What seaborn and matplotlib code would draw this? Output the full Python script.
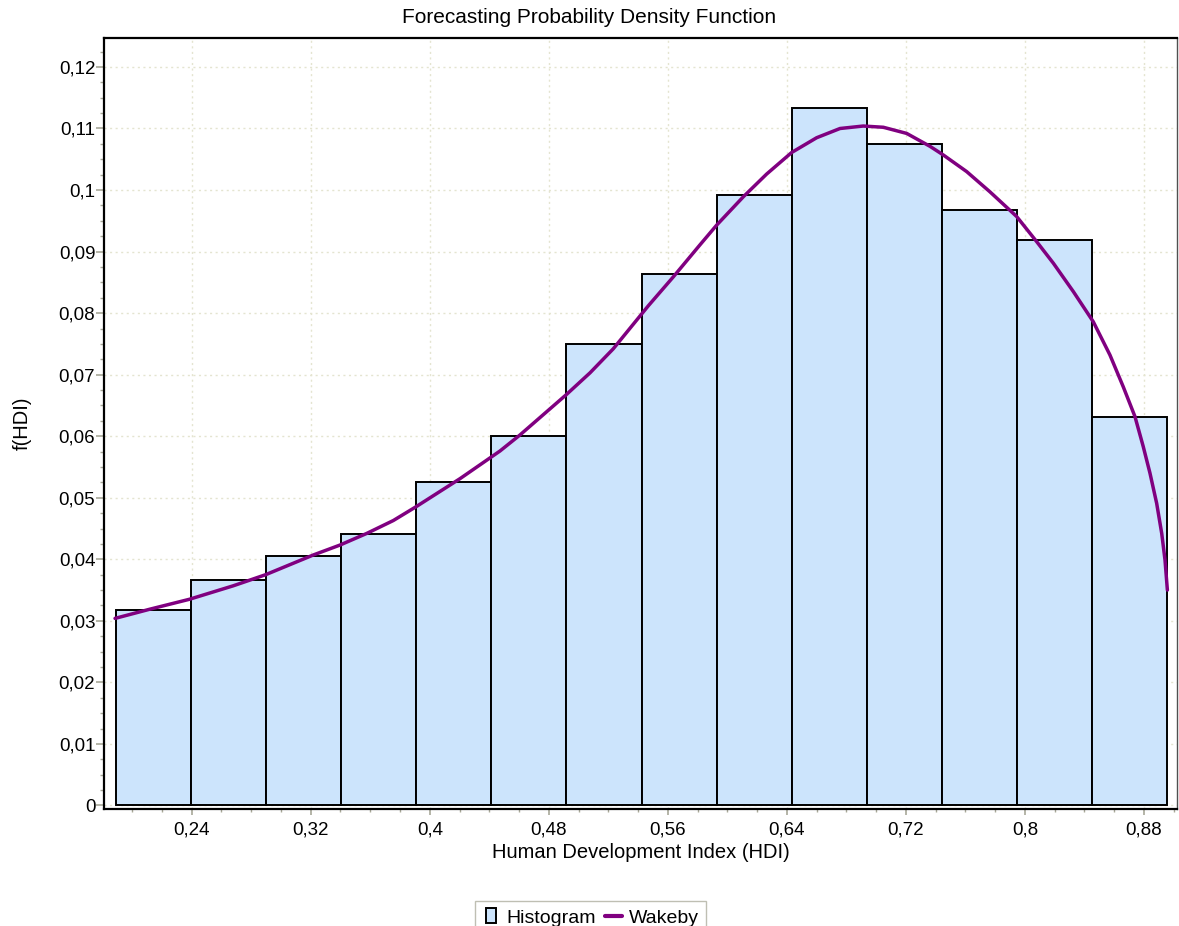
import numpy as np
import pandas as pd
import matplotlib
matplotlib.use("Agg")
import matplotlib.pyplot as plt
from matplotlib.ticker import MultipleLocator, FuncFormatter
from matplotlib.patches import Patch, Rectangle
from matplotlib.lines import Line2D
from matplotlib.legend_handler import HandlerPatch
import seaborn as sns

# Histogram of HDI values (density per bin)
hist_low = 0.1889
hist_high = 0.8957
bin_density = [0.0318, 0.0367, 0.0406, 0.0441, 0.0526, 0.0601, 0.0750,
               0.0863, 0.0992, 0.1133, 0.1074, 0.0967, 0.0919, 0.0631]

# Fitted Wakeby density
wakeby_x = [0.1885, 0.2120, 0.2384, 0.2680, 0.2897, 0.3217, 0.3395, 0.3576,
            0.3755, 0.3905, 0.4203, 0.4472, 0.4606, 0.4915, 0.5077, 0.5233,
            0.5469, 0.5637, 0.5816, 0.5928, 0.6107, 0.6264, 0.6432, 0.6600,
            0.6757, 0.6913, 0.7048, 0.7205, 0.7362, 0.7451, 0.7608, 0.7765,
            0.7944, 0.8079, 0.8191, 0.8325, 0.8459, 0.8571, 0.8661, 0.8739,
            0.8795, 0.8840, 0.8885, 0.8919, 0.8941, 0.8957]
wakeby_y = [0.0304, 0.0319, 0.0335, 0.0357, 0.0375, 0.0407, 0.0423, 0.0442,
            0.0463, 0.0485, 0.0531, 0.0576, 0.0602, 0.0667, 0.0703, 0.0742,
            0.0812, 0.0859, 0.0911, 0.0943, 0.0989, 0.1026, 0.1061, 0.1085,
            0.1100, 0.1104, 0.1102, 0.1092, 0.1071, 0.1057, 0.1030, 0.0997,
            0.0957, 0.0916, 0.0881, 0.0835, 0.0786, 0.0732, 0.0680, 0.0632,
            0.0583, 0.0540, 0.0491, 0.0442, 0.0399, 0.0350]

sns.set_theme(style="white")
plt.rcParams["font.family"] = ["Liberation Sans", "DejaVu Sans"]
plt.rcParams["text.color"] = "black"
plt.rcParams["axes.labelcolor"] = "black"

fig = plt.figure(figsize=(11.79, 9.26), dpi=100)
ax = fig.add_axes([0.0885, 0.1267, 0.9101, 0.8319])

n_bins = len(bin_density)
edges = np.linspace(hist_low, hist_high, n_bins + 1)
hist_df = pd.DataFrame({
    "hdi": (edges[:-1] + edges[1:]) / 2,
    "density": bin_density,
})

bar_fill = "#cce4fc"
curve_color = "#800080"

sns.histplot(data=hist_df, x="hdi", weights="density", bins=n_bins,
             binrange=(hist_low, hist_high), stat="count", color=bar_fill,
             edgecolor="black", linewidth=1.4, alpha=1, ax=ax)
sns.lineplot(x=wakeby_x, y=wakeby_y, sort=False, estimator=None,
             color=curve_color, linewidth=2.5, ax=ax)

ax.set_xlim(0.1813, 0.9024)
ax.set_ylim(-0.00052, 0.12465)

def comma_fmt(v, pos):
    s = f"{v:.2f}".rstrip("0").rstrip(".")
    if s in ("-0", ""):
        s = "0"
    return s.replace(".", ",")

ax.xaxis.set_major_locator(MultipleLocator(0.08))
ax.xaxis.set_minor_locator(MultipleLocator(0.02))
ax.yaxis.set_major_locator(MultipleLocator(0.01))
ax.yaxis.set_minor_locator(MultipleLocator(0.0025))
ax.xaxis.set_major_formatter(FuncFormatter(comma_fmt))
ax.yaxis.set_major_formatter(FuncFormatter(comma_fmt))

tick_gray = "#a8a898"
ax.tick_params(axis="both", which="both", direction="out", colors=tick_gray,
               labelcolor="black", labelsize=13.5)
ax.tick_params(axis="y", which="major", length=5.5, width=1.2, pad=1)
ax.tick_params(axis="y", which="minor", length=3, width=1)
ax.tick_params(axis="x", which="major", length=4.5, width=1.2, pad=5)
ax.tick_params(axis="x", which="minor", length=2.5, width=1)
ax.xaxis.set_ticks_position("bottom")
ax.yaxis.set_ticks_position("left")

ax.grid(True, which="major", color="#e4e4d0", linestyle=(0, (1.5, 2.5)),
        linewidth=1)
ax.set_axisbelow(True)

for side in ("left", "bottom", "top"):
    ax.spines[side].set_color("black")
    ax.spines[side].set_linewidth(1.6)
ax.spines["right"].set_color("#505050")
ax.spines["right"].set_linewidth(1.0)

ax.set_xlabel("Human Development Index (HDI)", fontsize=14.5, labelpad=3,
              color="black")
ax.set_ylabel("f(HDI)", fontsize=14.5, color="black")
ax.yaxis.set_label_coords(-0.068, 0.5)
fig.text(0.5, 1 - 17.5 / 926, "Forecasting Probability Density Function",
         fontsize=15, ha="center", va="center", color="black")


def narrow_box(legend, orig_handle, xdescent, ydescent, width, height,
               fontsize):
    w = width * 0.57
    return Rectangle((-xdescent + (width - w) / 2, -ydescent), w, height)


handles = [Patch(facecolor=bar_fill, edgecolor="black", linewidth=1.4,
                 label="Histogram"),
           Line2D([], [], color=curve_color, linewidth=3, label="Wakeby")]
leg = fig.legend(handles=handles, loc="upper center", ncol=2,
                 bbox_to_anchor=(0.501, 0.0273), frameon=True, fancybox=False,
                 fontsize=14, handlelength=0.85, handleheight=0.8,
                 handletextpad=0.35, columnspacing=0.5, borderpad=0.4,
                 borderaxespad=0,
                 handler_map={Patch: HandlerPatch(patch_func=narrow_box)})
leg.get_frame().set_edgecolor("#b0b0a0")
leg.get_frame().set_linewidth(1.0)
for t in leg.get_texts():
    t.set_color("black")

fig.savefig("out.png", dpi=100)
